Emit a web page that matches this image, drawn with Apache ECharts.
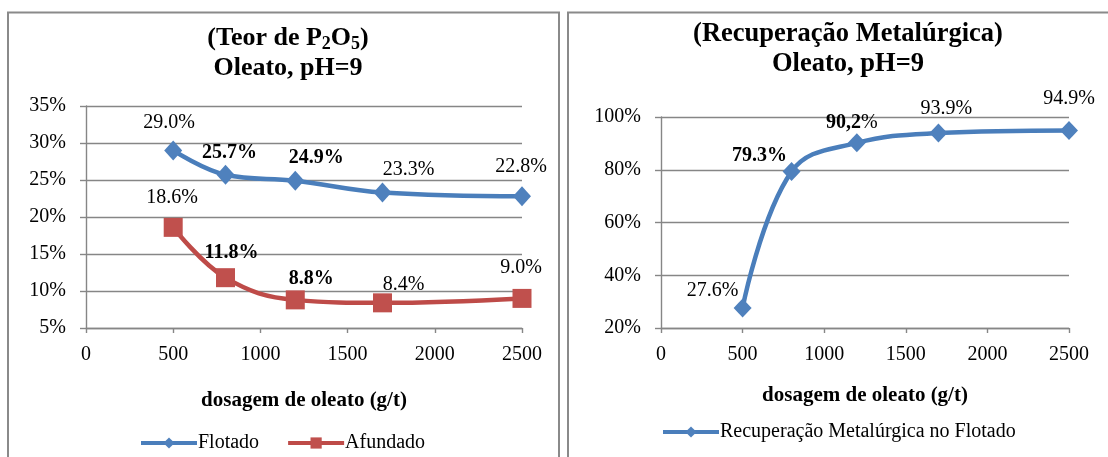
<!DOCTYPE html>
<html>
<head>
<meta charset="utf-8">
<script src="https://cdn.jsdelivr.net/npm/echarts@6/dist/echarts.min.js"></script>
<style>
  html, body { margin: 0; padding: 0; background: #ffffff; }
  #chart { width: 1108px; height: 457px; }
</style>
</head>
<body>
<div id="chart"></div>
<script>
// Oleate dosage (g/t) tested at pH 9
const dosage = [500, 800, 1200, 1700, 2500];
// P2O5 grade (%) in the floated and sunk products
const teorFlotado = [29.0, 25.7, 24.9, 23.3, 22.8];
const teorAfundado = [18.6, 11.8, 8.8, 8.4, 9.0];
// Metallurgical recovery in the floated product (%)
const recuperacao = [27.6, 79.3, 90.2, 93.9, 94.9];
// Axis tick values
const xTicks = [0, 500, 1000, 1500, 2000, 2500];
const teorTicks = [5, 10, 15, 20, 25, 30, 35];
const recTicks = [20, 40, 60, 80, 100];

// Which value labels are printed bold, and which use a decimal comma
const boldFlotado = [false, true, true, false, false];
const boldAfundado = [false, true, true, false, false];
const boldRec = [false, true, true, false, false];
const commaRec = [false, false, true, false, false];

const SERIF = '"Liberation Serif", "Times New Roman", serif';
const GRID_COLOR = '#868686';
const BLUE_LINE = '#4A7EBB';
const BLUE_MARK = '#4F81BD';
const RED_LINE = '#BE4B48';
const RED_MARK = '#C0504D';

// Label placement around each marker (pixels)
const offFlotado = [[-4, -28], [4, -22], [21, -23], [26, -23], [-1, -30]];
const offAfundado = [[-1, -30], [6, -25], [16, -21], [21, -18], [-1, -31]];
const offRec = [[-30, -17], [-32, -16], [-5, -20], [8, -24], [0, -32]];

function buildPoints(values, bold, offsets, comma) {
  return values.map((v, i) => {
    const txt = comma && comma[i] ? v.toFixed(1).replace('.', ',') : v.toFixed(1);
    return {
      value: [dosage[i], v],
      label: {
        show: true,
        position: 'inside',
        offset: offsets[i],
        formatter: comma && comma[i] ? '{b|' + txt + '}{n|%}' : (bold[i] ? '{b|' + txt + '%}' : '{n|' + txt + '%}'),
        rich: {
          b: { fontFamily: SERIF, fontSize: 20, fontWeight: 'bold', color: '#000' },
          n: { fontFamily: SERIF, fontSize: 20, fontWeight: 'normal', color: '#000' }
        }
      }
    };
  });
}

function xAxisFor(gridIndex, nameGap) {
  return {
    type: 'value',
    gridIndex: gridIndex,
    min: xTicks[0],
    max: xTicks[xTicks.length - 1],
    interval: xTicks[1] - xTicks[0],
    name: 'dosagem de oleato (g/t)',
    nameLocation: 'middle',
    nameGap: nameGap,
    nameTextStyle: { fontFamily: SERIF, fontSize: 21, fontWeight: 'bold', color: '#000' },
    axisLine: { show: true, onZero: false, lineStyle: { color: GRID_COLOR, width: 1.4 } },
    axisTick: { show: true, length: 5, lineStyle: { color: GRID_COLOR, width: 1.4 } },
    axisLabel: { fontFamily: SERIF, fontSize: 20, color: '#000', margin: 17, formatter: (v) => String(v) },
    splitLine: { show: false }
  };
}

function yAxisFor(gridIndex, ticks) {
  return {
    type: 'value',
    gridIndex: gridIndex,
    min: ticks[0],
    max: ticks[ticks.length - 1],
    interval: ticks[1] - ticks[0],
    axisLine: { show: true, lineStyle: { color: GRID_COLOR, width: 1.4 } },
    axisTick: { show: true, length: 6, lineStyle: { color: GRID_COLOR, width: 1.4 } },
    axisLabel: { fontFamily: SERIF, fontSize: 20, color: '#000', margin: 20, formatter: '{value}%' },
    splitLine: { show: true, lineStyle: { color: GRID_COLOR, width: 1.4 } }
  };
}

const chart = echarts.init(document.getElementById('chart'), null, { renderer: 'canvas' });

const option = {
  backgroundColor: '#ffffff',
  animation: false,
  graphic: [
    // panel frames
    { type: 'rect', shape: { x: 8, y: 12.5, width: 551, height: 460 }, style: { fill: 'none', stroke: '#8a8a8a', lineWidth: 2 }, silent: true, z: -1 },
    { type: 'rect', shape: { x: 568, y: 12.5, width: 560, height: 460 }, style: { fill: 'none', stroke: '#8a8a8a', lineWidth: 2 }, silent: true, z: -1 },
    // panel titles
    {
      type: 'text', x: 288, y: 53,
      style: {
        text: '{t|(Teor de P}{s|2}{t|O}{s|5}{t|)}\n{t|Oleato, pH=9}',
        align: 'center', verticalAlign: 'middle',
        rich: {
          t: { fontFamily: SERIF, fontSize: 26, fontWeight: 'bold', lineHeight: 30, fill: '#000' },
          s: { fontFamily: SERIF, fontSize: 18, fontWeight: 'bold', lineHeight: 18, padding: [12, 0, 0, 0], fill: '#000' }
        }
      }
    },
    {
      type: 'text', x: 848, y: 49,
      style: {
        text: '(Recuperação Metalúrgica)\nOleato, pH=9',
        align: 'center', verticalAlign: 'middle',
        fontFamily: SERIF, fontSize: 26.5, fontWeight: 'bold', lineHeight: 30, fill: '#000'
      }
    }
  ],
  grid: [
    { left: 86, top: 106, width: 436, height: 222 },
    { left: 661, top: 117, width: 408, height: 211 }
  ],
  xAxis: [xAxisFor(0, 62), xAxisFor(1, 57)],
  yAxis: [yAxisFor(0, teorTicks), yAxisFor(1, recTicks)],
  legend: [
    {
      data: ['Flotado', 'Afundado'],
      left: 139, top: 433, padding: 0,
      itemWidth: 56, itemHeight: 14, itemGap: 27,
      lineStyle: { width: 4 },
      textStyle: { fontFamily: SERIF, fontSize: 20, color: '#000', padding: [0, 0, 0, -4] }
    },
    {
      data: ['Recuperação Metalúrgica no Flotado'],
      left: 661, top: 422, padding: 0,
      itemWidth: 56, itemHeight: 14,
      lineStyle: { width: 4 },
      textStyle: { fontFamily: SERIF, fontSize: 20, color: '#000', padding: [0, 0, 0, -4] }
    }
  ],
  series: [
    {
      name: 'Flotado', type: 'line', xAxisIndex: 0, yAxisIndex: 0,
      smooth: 0.4, symbol: 'diamond', symbolSize: [18, 20],
      lineStyle: { color: BLUE_LINE, width: 4.5 },
      itemStyle: { color: BLUE_MARK },
      data: buildPoints(teorFlotado, boldFlotado, offFlotado)
    },
    {
      name: 'Afundado', type: 'line', xAxisIndex: 0, yAxisIndex: 0,
      smooth: 0.4, symbol: 'rect', symbolSize: 19,
      lineStyle: { color: RED_LINE, width: 4.5 },
      itemStyle: { color: RED_MARK },
      data: buildPoints(teorAfundado, boldAfundado, offAfundado)
    },
    {
      name: 'Recuperação Metalúrgica no Flotado', type: 'line', xAxisIndex: 1, yAxisIndex: 1,
      smooth: 0.4, symbol: 'diamond', symbolSize: [18, 19],
      lineStyle: { color: BLUE_LINE, width: 4.5 },
      itemStyle: { color: BLUE_MARK },
      data: buildPoints(recuperacao, boldRec, offRec, commaRec)
    }
  ]
};

chart.setOption(option);
</script>
</body>
</html>
